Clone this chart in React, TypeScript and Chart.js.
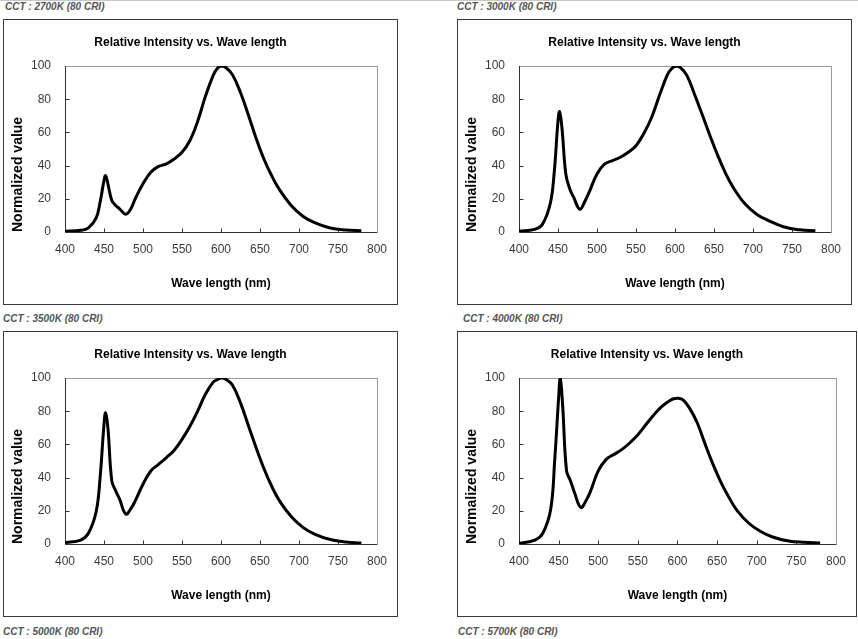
import React, { useEffect, useRef } from 'react';
import { Chart, registerables } from 'chart.js';

Chart.register(...registerables);

const FONT = '"Liberation Sans", Arial, sans-serif';

const wavelengths = [400, 420, 430, 440, 445, 450, 452, 455, 460, 465, 470, 478, 485, 490, 500, 510, 520, 530, 540, 550, 560, 570, 580, 590, 595, 601, 607, 615, 625, 635, 645, 655, 665, 675, 690, 705, 720, 740, 760, 780];

const cct2700 = [0.5, 1, 2.5, 8.5, 18, 31, 34, 29, 19, 16, 14, 10.7, 14.5, 20, 29, 36, 39.5, 41, 44, 48, 55, 66.5, 81.7, 94.4, 98.4, 100, 98.8, 94.5, 84, 70.6, 56.5, 44, 33.9, 25.5, 16, 9.5, 5.6, 2.4, 1.2, 0.8];
const cct3000 = [0.5, 1.6, 4.6, 17, 35, 67, 72.5, 63, 35, 26, 21, 13.7, 19, 24, 35, 41, 43, 45, 48, 52, 59.3, 69, 82.2, 94.5, 98, 100, 99, 94.5, 83, 70.6, 57.8, 45.9, 35.2, 26.6, 16.8, 10.6, 6.9, 3, 1.3, 0.8];
const cct3500 = [0.8, 2.4, 6.5, 19.6, 40, 72, 79, 70, 38, 32, 27, 18, 21.7, 26, 36, 44, 48, 52, 56.5, 63, 70.8, 80, 90.2, 97.5, 99, 100, 99, 95.5, 85, 71.5, 58, 45.5, 34.8, 26, 16.5, 10, 6, 2.7, 1.2, 0.6];
const cct4000 = [0.4, 2.4, 6.5, 21, 50, 88, 100, 84, 44, 38, 31, 22, 26.5, 31.5, 44, 51, 54, 57, 61, 65.8, 71.8, 77.7, 82.8, 86.3, 87.5, 87.8, 86.8, 82, 72.9, 60, 47.8, 37, 28, 20.3, 12.5, 7.5, 4.2, 1.8, 1, 0.6];

const xTickValues = [400, 450, 500, 550, 600, 650, 700, 750, 800];
const yTickValues = [0, 20, 40, 60, 80, 100];

const chartTitle = 'Relative Intensity vs. Wave length';
const xTitle = 'Wave length (nm)';
const yTitle = 'Normalized value';

const cctLabels = [
  'CCT : 2700K (80 CRI)',
  'CCT : 3000K (80 CRI)',
  'CCT : 3500K (80 CRI)',
  'CCT : 4000K (80 CRI)',
  'CCT : 5000K (80 CRI)',
  'CCT : 5700K (80 CRI)',
];

const framePlugin = {
  id: 'frame',
  beforeDatasetsDraw(chart: any) {
    const { ctx, chartArea: a, scales } = chart;
    ctx.save();
    ctx.lineWidth = 1;
    ctx.strokeStyle = '#9a9a9a';
    ctx.strokeRect(Math.round(a.left) + 0.5, Math.round(a.top) + 0.5, Math.round(a.right - a.left), Math.round(a.bottom - a.top));
    ctx.strokeStyle = '#333';
    ctx.beginPath();
    const l = Math.round(a.left) + 0.5;
    const b = Math.round(a.bottom) + 0.5;
    ctx.moveTo(l, a.top);
    ctx.lineTo(l, b);
    ctx.lineTo(a.right, b);
    const xs = scales.x;
    xs.ticks.forEach((t: any) => {
      if (t.value === 400 || t.value === 800) return;
      const px = Math.round(xs.getPixelForValue(t.value)) + 0.5;
      ctx.moveTo(px, b);
      ctx.lineTo(px, b - 4);
    });
    const ys = scales.y;
    ys.ticks.forEach((t: any) => {
      if (t.value === 0 || t.value === 100) return;
      const py = Math.round(ys.getPixelForValue(t.value)) + 0.5;
      ctx.moveTo(l, py);
      ctx.lineTo(l + 4, py);
    });
    ctx.stroke();
    ctx.restore();
  },
};

type Props = { left: number; top: number; width: number; height: number; values: number[] };

function SpectrumChart({ left, top, width, height, values }: Props) {
  const ref = useRef<HTMLCanvasElement | null>(null);
  useEffect(() => {
    if (!ref.current) return;
    const chart = new Chart(ref.current, {
      type: 'line',
      data: {
        datasets: [
          {
            data: wavelengths.map((w, i) => ({ x: w, y: values[i] })),
            borderColor: '#000',
            borderWidth: 3,
            pointRadius: 0,
            fill: false,
            tension: 0.4,
          },
        ],
      },
      options: {
        animation: false,
        responsive: false,
        devicePixelRatio: 1,
        layout: { padding: { left: 0, right: 20, top: 0, bottom: 0 } },
        plugins: {
          legend: { display: false },
          tooltip: { enabled: false },
          title: {
            display: true,
            text: chartTitle,
            color: '#000',
            font: { family: FONT, size: 12, weight: 'bold', lineHeight: 1.2 },
            padding: { top: 15.8, bottom: 15.8 },
          },
        },
        scales: {
          x: {
            type: 'linear',
            min: 400,
            max: 800,
            afterFit: (s: any) => { s.height = 72; },
            afterBuildTicks: (s: any) => { s.ticks = xTickValues.map((v) => ({ value: v })); },
            grid: { display: false, drawTicks: false },
            border: { display: false },
            ticks: { autoSkip: false, maxRotation: 0, padding: 10, color: '#3a3a3a', font: { family: FONT, size: 12 } },
            title: { display: true, text: xTitle, color: '#000', font: { family: FONT, size: 12, weight: 'bold', lineHeight: 1.2 }, padding: { top: 0, bottom: 12.8 } },
          },
          y: {
            min: 0,
            max: 100,
            afterFit: (s: any) => { s.width = 61; },
            afterBuildTicks: (s: any) => { s.ticks = yTickValues.map((v) => ({ value: v })); },
            grid: { display: false, drawTicks: false },
            border: { display: false },
            ticks: { padding: 14, color: '#3a3a3a', font: { family: FONT, size: 12 } },
            title: { display: true, align: 'start', text: yTitle, color: '#000', font: { family: FONT, size: 14, weight: 'bold', lineHeight: 1.2 }, padding: { top: 5.6, bottom: 0 } },
          },
        },
      } as any,
      plugins: [framePlugin],
    });
    return () => chart.destroy();
  }, [values]);

  return (
    <div
      style={{
        position: 'absolute',
        left,
        top,
        width,
        height,
        border: '1px solid #3a3a3a',
        boxSizing: 'border-box',
        background: '#fff',
      }}
    >
      <canvas ref={ref} width={width - 2} height={height - 2} style={{ display: 'block' }} />
    </div>
  );
}

const labelStyle: React.CSSProperties = {
  position: 'absolute',
  font: `italic bold 10px ${FONT}`,
  color: '#555',
  lineHeight: '12px',
  whiteSpace: 'nowrap',
};

export default function App() {
  return (
    <div style={{ position: 'absolute', left: 0, top: 0, width: 858, height: 639, background: '#fff', overflow: 'hidden' }}>
      <div style={{ position: 'absolute', left: 0, top: 0, width: 858, height: 1, background: '#c8c8c8' }} />
      <div style={{ ...labelStyle, left: 5, top: 1 }}>{cctLabels[0]}</div>
      <div style={{ ...labelStyle, left: 457, top: 1 }}>{cctLabels[1]}</div>
      <div style={{ ...labelStyle, left: 3, top: 313 }}>{cctLabels[2]}</div>
      <div style={{ ...labelStyle, left: 463, top: 313 }}>{cctLabels[3]}</div>
      <div style={{ ...labelStyle, left: 3, top: 626 }}>{cctLabels[4]}</div>
      <div style={{ ...labelStyle, left: 458, top: 626 }}>{cctLabels[5]}</div>
      <SpectrumChart left={3} top={19} width={395} height={286} values={cct2700} />
      <SpectrumChart left={457} top={19} width={395} height={286} values={cct3000} />
      <SpectrumChart left={3} top={331} width={395} height={286} values={cct3500} />
      <SpectrumChart left={457} top={331} width={400} height={286} values={cct4000} />
    </div>
  );
}
